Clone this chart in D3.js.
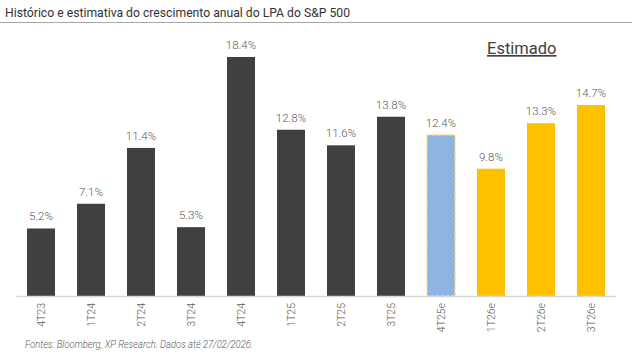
<!DOCTYPE html>
<html><head><meta charset="utf-8">
<script src="https://cdn.jsdelivr.net/npm/d3@7"></script>
<style>body{margin:0;background:#fff;} svg{display:block;font-family:Roboto, sans-serif;}</style>
</head><body><svg id="c" width="639" height="355"></svg>
<script>
const categories = ["4T23","1T24","2T24","3T24","4T24","1T25","2T25","3T25","4T25e","1T26e","2T26e","3T26e"];
const values = [5.2,7.1,11.4,5.3,18.4,12.8,11.6,13.8,12.4,9.8,13.3,14.7];
const kinds = ["hist","hist","hist","hist","hist","hist","hist","hist","current","est","est","est"];
const title = "Histórico e estimativa do crescimento anual do LPA do S&P 500";
const source = "Fontes: Bloomberg, XP Research. Dados até 27/02/2026.";
const colors = {hist:"#404040", current:"#8EB4E3", est:"#FFC000"};

const svg = d3.select("#c");
const x = d3.scaleBand().domain(categories).range([16,616]).paddingInner(0.44).paddingOuter(0.22);
const y = d3.scaleLinear().domain([0,18.4]).range([296,57]);

svg.append("text").attr("x",5).attr("y",17).attr("font-size",13).attr("fill","#333")
  .attr("textLength",345).attr("lengthAdjust","spacingAndGlyphs").text(title);
svg.append("line").attr("x1",0).attr("x2",632).attr("y1",22.5).attr("y2",22.5).attr("stroke","#a6a6a6").attr("stroke-width",1);

svg.selectAll("rect.bar").data(categories).join("rect").attr("class","bar")
  .attr("x",d=>x(d)).attr("width",x.bandwidth())
  .attr("y",(d,i)=>y(values[i])).attr("height",(d,i)=>y(0)-y(values[i]))
  .attr("fill",(d,i)=>colors[kinds[i]])
  .attr("stroke",(d,i)=>kinds[i]==="current"?"#FFD966":"none")
  .attr("stroke-dasharray","3,2").attr("stroke-width",1.5);

svg.selectAll("text.val").data(categories).join("text").attr("class","val")
  .attr("x",d=>x(d)+x.bandwidth()/2).attr("y",(d,i)=>y(values[i])-8)
  .attr("text-anchor","middle").attr("font-size",11.5).attr("font-weight",300).attr("fill","#595959")
  .text((d,i)=>values[i].toFixed(1)+"%");

const ax = svg.append("g").attr("transform","translate(0,296)").call(d3.axisBottom(x).tickSize(0).tickPadding(0));
ax.select(".domain").attr("stroke","#d9d9d9").attr("stroke-width",1.5);
ax.selectAll("text").attr("font-size",10.5).attr("font-weight",300).attr("fill","#595959").attr("font-family","Roboto, sans-serif")
  .attr("transform","rotate(-90)").attr("text-anchor","end").attr("dy","0.35em").attr("x",-7).attr("y",0);

svg.append("text").attr("x",487).attr("y",54).attr("font-size",16.5).attr("fill","#404040")
  .attr("text-decoration","underline").text("Estimado");

svg.append("text").attr("x",25).attr("y",348).attr("font-size",10.5).attr("font-style","italic").attr("font-weight",300).attr("fill","#595959")
  .attr("textLength",228).attr("lengthAdjust","spacingAndGlyphs").text(source);
</script></body></html>
